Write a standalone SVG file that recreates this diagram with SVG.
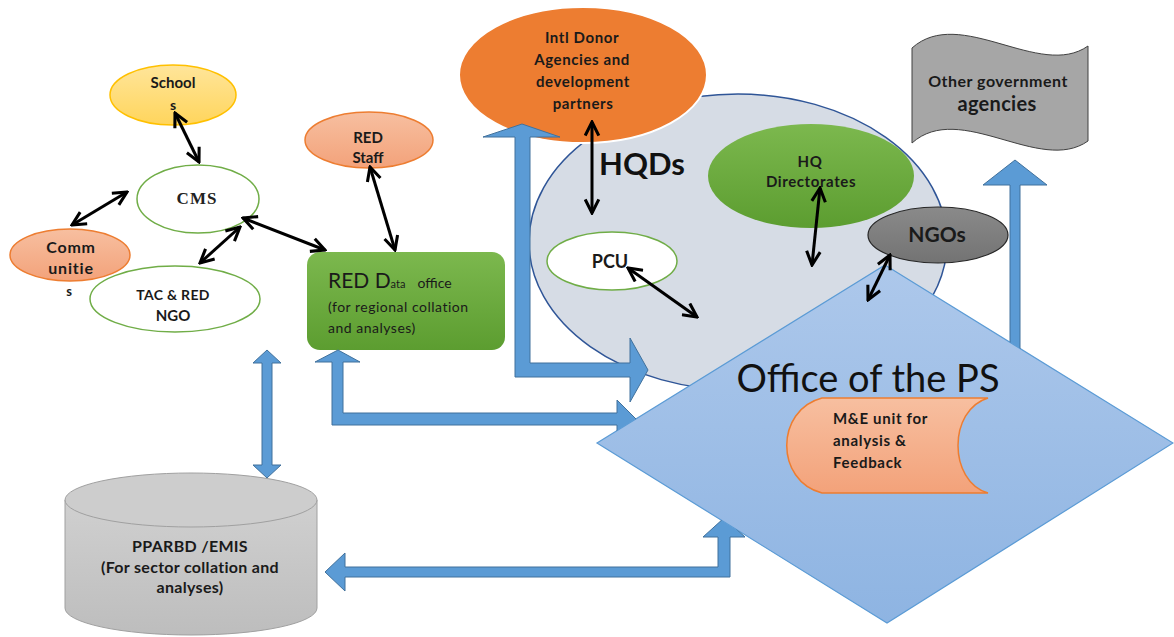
<svg xmlns="http://www.w3.org/2000/svg" width="1174" height="637" viewBox="0 0 1174 637">
<style>
  .lbl{font-family:Lato,"Liberation Sans",sans-serif;font-weight:bold;fill:#1a1a1a;text-anchor:middle}
  .reg{font-family:Lato,"Liberation Sans",sans-serif;fill:#1a1a1a}
  .blk{fill:none;stroke:#000;stroke-width:3;marker-start:url(#ah);marker-end:url(#ah)}
  .blue{fill:#5b9bd5;stroke:#41719c;stroke-width:1}
</style>
<defs>
  <marker id="ah" viewBox="0 0 10 10" refX="9" refY="5" markerWidth="17" markerHeight="17" markerUnits="userSpaceOnUse" orient="auto-start-reverse">
    <path d="M1 1 L9 5 L1 9" fill="none" stroke="#000" stroke-width="1.8"/>
  </marker>
  <linearGradient id="gGreen" x1="0" y1="0" x2="0" y2="1"><stop offset="0" stop-color="#7cb84e"/><stop offset="1" stop-color="#5c9d30"/></linearGradient>
  <linearGradient id="gSalmon" x1="0" y1="0" x2="0" y2="1"><stop offset="0" stop-color="#f7bfa0"/><stop offset="1" stop-color="#f3a27a"/></linearGradient>
  <linearGradient id="gYellow" x1="0" y1="0" x2="0" y2="1"><stop offset="0" stop-color="#ffe59a"/><stop offset="1" stop-color="#ffd55c"/></linearGradient>
  <linearGradient id="gDiamond" x1="0" y1="0" x2="0" y2="1"><stop offset="0" stop-color="#adc8eb"/><stop offset="1" stop-color="#8eb4e2"/></linearGradient>
  <linearGradient id="gGrey" x1="0" y1="0" x2="0" y2="1"><stop offset="0" stop-color="#d0d0d0"/><stop offset="1" stop-color="#bdbdbd"/></linearGradient>
  <linearGradient id="gDark" x1="0" y1="0" x2="0" y2="1"><stop offset="0" stop-color="#8a8a8a"/><stop offset="1" stop-color="#737373"/></linearGradient>
  <clipPath id="outsideDiamond">
    <path clip-rule="evenodd" d="M0 0 H1174 V637 H0 Z M885 265 L1173 443 L887 623 L597 443 Z"/>
  </clipPath>
</defs>
<rect width="1174" height="637" fill="#fff"/>

<g id="hqds">
  <ellipse cx="738" cy="242" rx="209" ry="148" fill="#d6dce5" stroke="#2f5597" stroke-width="1.5"/>
  <text x="642" y="175" font-family="Lato,'Liberation Sans',sans-serif" font-size="31" font-weight="bold" fill="#111" text-anchor="middle">HQDs</text>
</g>
<g id="pcu">
  <ellipse cx="612" cy="261" rx="65" ry="29" fill="#fff" stroke="#70ad47" stroke-width="1.5"/>
  <text class="lbl" x="610" y="268" font-size="18">PCU</text>
</g>
<g id="hq-directorates">
  <ellipse cx="811" cy="176" rx="103" ry="52" fill="url(#gGreen)"/>
  <text class="lbl" x="810" y="167" font-size="15" letter-spacing="0.6">HQ</text>
  <text class="lbl" x="811" y="187" font-size="15" letter-spacing="0.6">Directorates</text>
</g>
<g id="ngos">
  <ellipse cx="938" cy="235" rx="70" ry="28" fill="url(#gDark)" stroke="#262626" stroke-width="1.2"/>
  <text class="lbl" x="937" y="242" font-size="21">NGOs</text>
</g>
<g id="donors">
  <ellipse cx="583" cy="75" rx="124" ry="68" fill="#ed7d31" stroke="#fff" stroke-width="2"/>
  <text class="lbl" x="582" y="43" font-size="15" letter-spacing="0.6">Intl Donor</text>
  <text class="lbl" x="582" y="65" font-size="15" letter-spacing="0.6">Agencies and</text>
  <text class="lbl" x="583" y="87" font-size="15" letter-spacing="0.6">development</text>
  <text class="lbl" x="583" y="109" font-size="15" letter-spacing="0.6">partners</text>
</g>
<g id="other-gov">
  <path d="M912 48 C960 5 1040 80 1088 46 L1088 141 C1040 175 960 100 912 143 Z" fill="#a6a6a6" stroke="#404040" stroke-width="1"/>
  <text class="lbl" x="998" y="87" font-size="16" letter-spacing="0.5">Other government</text>
  <text class="lbl" x="997" y="111" font-size="20" letter-spacing="0.3">agencies</text>
</g>
<g id="schools">
  <ellipse cx="173" cy="95" rx="63" ry="30" fill="url(#gYellow)" stroke="#ffc000" stroke-width="1.5"/>
  <text class="lbl" x="173" y="88" font-size="15">School</text>
  <text class="lbl" x="173" y="110" font-size="14">s</text>
</g>
<g id="cms">
  <ellipse cx="198" cy="199" rx="61" ry="34" fill="#fff" stroke="#70ad47" stroke-width="1.5"/>
  <text x="197" y="204" font-family="'Liberation Serif',serif" font-size="17" font-weight="bold" letter-spacing="1" fill="#222" text-anchor="middle">CMS</text>
</g>
<g id="communities">
  <ellipse cx="70" cy="255" rx="60" ry="26" fill="url(#gSalmon)" stroke="#ed7d31" stroke-width="1.5"/>
  <text class="lbl" x="71" y="253" font-size="16" letter-spacing="0.8">Comm</text>
  <text class="lbl" x="71" y="274" font-size="16" letter-spacing="0.8">unitie</text>
  <text class="lbl" x="69" y="296" font-size="13">s</text>
</g>
<g id="tac-red-ngo">
  <ellipse cx="175" cy="299" rx="85" ry="33" fill="#fff" stroke="#70ad47" stroke-width="1.5"/>
  <text class="lbl" x="173" y="300" font-size="14" letter-spacing="0.3">TAC &amp; RED</text>
  <text class="lbl" x="173" y="321" font-size="15">NGO</text>
</g>
<g id="red-staff">
  <ellipse cx="369" cy="140" rx="64" ry="28" fill="url(#gSalmon)" stroke="#ed7d31" stroke-width="1.5"/>
  <text class="lbl" x="368" y="143" font-size="15">RED</text>
  <text class="lbl" x="368" y="163" font-size="15">Staff</text>
</g>
<g id="red-data-office">
  <rect x="307" y="252" width="198" height="98" rx="13" fill="url(#gGreen)"/>
  <text class="reg" x="328" y="288"><tspan font-size="21">RED D</tspan><tspan font-size="11">ata</tspan><tspan font-size="14" dx="12">office</tspan></text>
  <text class="reg" x="328" y="312" font-size="14" letter-spacing="0.5">(for regional collation</text>
  <text class="reg" x="328" y="333" font-size="14" letter-spacing="0.5">and analyses)</text>
</g>
<g id="pparbd-emis">
  <path d="M65 500 L65 608 A126 27 0 0 0 317 608 L317 500 Z" fill="url(#gGrey)" stroke="#a0a0a0" stroke-width="1"/>
  <ellipse cx="191" cy="500" rx="126" ry="27" fill="#cdcdcd" stroke="#a0a0a0" stroke-width="1"/>
  <text class="lbl" x="190" y="552" font-size="16" letter-spacing="0.3" fill="#262626">PPARBD /EMIS</text>
  <text class="lbl" x="190" y="573" font-size="16" letter-spacing="0.3" fill="#262626">(For sector collation and</text>
  <text class="lbl" x="190" y="593" font-size="16" letter-spacing="0.3" fill="#262626">analyses)</text>
</g>
<g id="office-ps">
  <path d="M885 265 L1173 443 L887 623 L597 443 Z" fill="url(#gDiamond)" stroke="#5b9bd5" stroke-width="1.2"/>
  <text x="868" y="392" font-family="Lato,'Liberation Sans',sans-serif" font-size="38" fill="#111" text-anchor="middle">Office of the PS</text>
</g>
<g id="me-unit">
  <path d="M822 398 L988 398 C948 410 948 481 988 493 L822 493 C775 481 775 410 822 398 Z" fill="url(#gSalmon)" stroke="#ed7d31" stroke-width="1.5"/>
  <text x="833" y="424" class="reg" font-size="15" font-weight="bold" letter-spacing="0.7">M&amp;E unit for</text>
  <text x="833" y="446" class="reg" font-size="15" font-weight="bold" letter-spacing="0.7">analysis &amp;</text>
  <text x="833" y="468" class="reg" font-size="15" font-weight="bold" letter-spacing="0.7">Feedback</text>
</g>

<g id="connectors">
  <g clip-path="url(#outsideDiamond)">
    <polygon class="blue" points="522,124 560,137 530,137 530,363 630,363 630,338 648,370 630,402 630,377 515,377 515,137 483,137"/>
    <polygon class="blue" points="338,350 360,362 343,362 343,413 617,413 617,400 636,419 617,438 617,425 332,425 332,362 315,362"/>
    <polygon class="blue" points="325,572 345,553 345,567 718,567 718,537 703,537 724,518 745,537 730,537 730,577 345,577 345,591"/>
    <polygon class="blue" points="267,350 281,363 272,363 272,465 281,465 267,478 253,465 262,465 262,363 253,363"/>
    <polygon class="blue" points="1015,160 1047,185 1020,185 1020,360 1010,360 1010,185 983,185"/>
  </g>
  <line class="blk" x1="175" y1="113" x2="199" y2="162"/>
  <line class="blk" x1="127" y1="192" x2="72" y2="225"/>
  <line class="blk" x1="240" y1="227" x2="200" y2="263"/>
  <line class="blk" x1="243" y1="218" x2="325" y2="250"/>
  <line class="blk" x1="370" y1="167" x2="395" y2="250"/>
  <line class="blk" x1="592" y1="122" x2="592" y2="213"/>
  <line class="blk" x1="628" y1="268" x2="697" y2="317"/>
  <line class="blk" x1="820" y1="188" x2="812" y2="265"/>
  <line class="blk" x1="890" y1="255" x2="868" y2="300"/>
</g>
</svg>
